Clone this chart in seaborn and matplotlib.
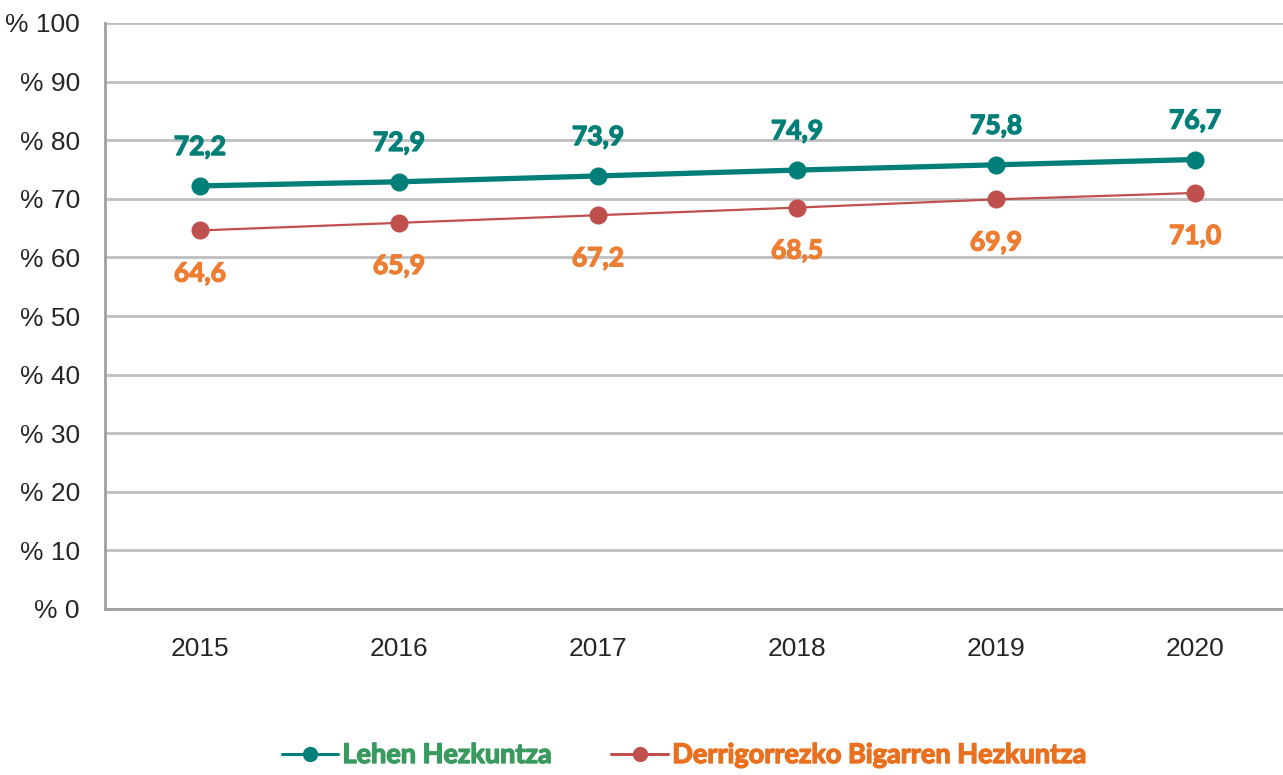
import seaborn as sns
import pandas as pd
import numpy as np
import matplotlib.pyplot as plt
from matplotlib import font_manager
from matplotlib.font_manager import FontProperties
import matplotlib.patheffects as pe

years = ['2015', '2016', '2017', '2018', '2019', '2020']
lehen = [72.2, 72.9, 73.9, 74.9, 75.8, 76.7]
dbh = [64.6, 65.9, 67.2, 68.5, 69.9, 71.0]
series_names = ['Lehen Hezkuntza', 'Derrigorrezko Bigarren Hezkuntza']
yticks = list(range(0, 101, 10))

green = '#007F78'
red = '#C0504D'
orange = '#ED7D31'
legend_green = '#3A9A5E'
legend_orange = '#E8701E'

sns.set_theme(style='white')

# find a real bold file (Calibri-like look)
bold_file = None
for fam in ['Lato', 'Open Sans', 'Noto Sans', 'DejaVu Sans']:
    for f in font_manager.fontManager.ttflist:
        if f.name == fam and f.weight == 700 and f.style == 'normal':
            bold_file = f.fname
            break
    if bold_file:
        break


def bold(size):
    if bold_file:
        return FontProperties(fname=bold_file, size=size)
    return FontProperties(family='DejaVu Sans', weight='bold', size=size)


def thicken(color):
    return [pe.withStroke(linewidth=1.0, foreground=color)]


tick_font = 'Liberation Sans'
plt.rcParams['font.family'] = ['Liberation Sans', 'DejaVu Sans']

df = pd.DataFrame({
    'x': list(range(len(years))) * 2,
    'value': lehen + dbh,
    'serie': [series_names[0]] * len(years) + [series_names[1]] * len(years),
})

fig = plt.figure(figsize=(12.83, 7.75), dpi=100)
ax = fig.add_axes([105 / 1283, 166 / 775, 1 - 105 / 1283, 586 / 775])

sns.lineplot(data=df[df['serie'] == series_names[0]], x='x', y='value', color=green,
             linewidth=3.8, marker='o', markersize=13, markeredgewidth=0, ax=ax,
             label=series_names[0], zorder=4)
sns.lineplot(data=df[df['serie'] == series_names[1]], x='x', y='value', color=red,
             linewidth=1.6, marker='o', markersize=13, markeredgewidth=0, ax=ax,
             label=series_names[1], zorder=3)

for i, v in enumerate(lehen):
    ax.annotate(f'{v:.1f}'.replace('.', ','), (i, v), xytext=(0, 28), textcoords='offset points',
                ha='center', va='center', color=green, fontproperties=bold(19),
                path_effects=thicken(green))
for i, v in enumerate(dbh):
    ax.annotate(f'{v:.1f}'.replace('.', ','), (i, v), xytext=(0, -31), textcoords='offset points',
                ha='center', va='center', color=orange, fontproperties=bold(19),
                path_effects=thicken(orange))

ax.set_xlim(-0.477, 5.442)
ax.set_ylim(0, 100)
ax.set_yticks(yticks)
ax.set_yticklabels(['% ' + str(t) for t in yticks], fontfamily=tick_font, fontsize=19)
ax.set_xticks(range(len(years)))
ax.set_xticklabels(years, fontfamily=tick_font, fontsize=19)
ax.tick_params(axis='y', length=0, pad=18)
ax.tick_params(axis='x', length=0, pad=20)
ax.set_xlabel('')
ax.set_ylabel('')
ax.yaxis.grid(True, color='#BFBFBF', linewidth=2)
ax.set_axisbelow(True)
for s in ['top', 'right']:
    ax.spines[s].set_visible(False)
for s in ['left', 'bottom']:
    ax.spines[s].set_color('#A0A0A0')
    ax.spines[s].set_linewidth(2)

leg = ax.legend(loc='center', bbox_to_anchor=(0.533, 20 / 775), bbox_transform=fig.transFigure,
                ncol=2, frameon=False, handlelength=2.1, columnspacing=2.2,
                handletextpad=0.15, prop=bold(19.5))
for h in leg.legend_handles:
    h.set_linewidth(2.2)
    h.set_markersize(11)
for t, c in zip(leg.get_texts(), [legend_green, legend_orange]):
    t.set_color(c)
    t.set_path_effects(thicken(c))

fig.savefig('out.png', dpi=100)
